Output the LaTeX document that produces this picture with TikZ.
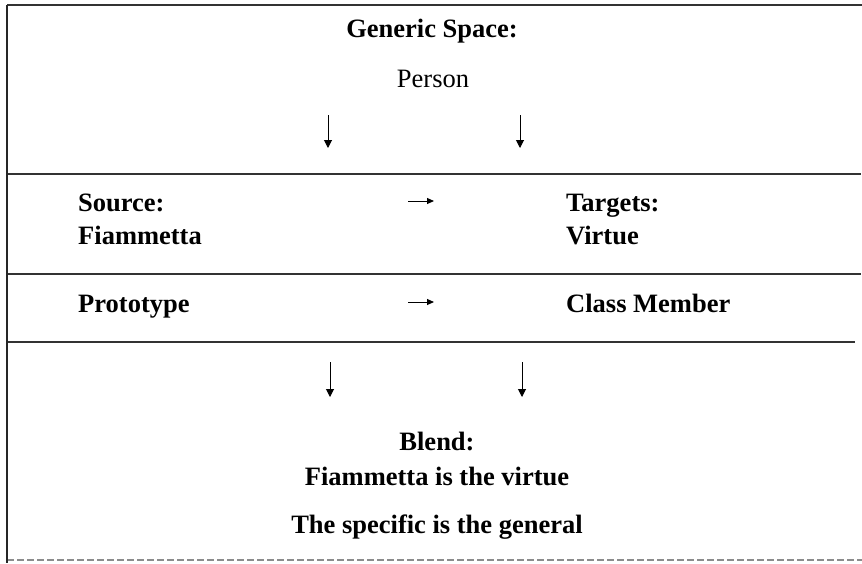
\documentclass[tikz,border=0pt]{standalone}
\usepackage{fontspec}
\setmainfont{Liberation Serif}
\usetikzlibrary{arrows.meta}
\tikzset{
  rowtext/.style={inner sep=0pt, align=left,
    font=\fontsize{26.5}{33}\selectfont\bfseries},
  blendtext/.style={inner sep=0pt, align=center,
    font=\fontsize{26.5}{35}\selectfont\bfseries},
  rule/.style={line width=1.3pt, black!80},
  maparrow/.style={-{Triangle[length=7pt, width=6pt]}, line width=1pt},
  downarrow/.style={-{Triangle[length=8pt, width=8pt]}, line width=1pt}
}

\begin{document}
\begin{tikzpicture}[x=1pt, y=-1pt]
  \useasboundingbox (0,0) rectangle (862,563);
  % frame
  \draw[rule] (7,5) -- (862,5);
  \draw[rule] (7,174) -- (861,174);
  \draw[rule] (7,274) -- (861,274);
  \draw[rule] (7,342) -- (855,342);
  \draw[rule, black!45, dash pattern=on 7pt off 3pt] (7,560) -- (862,560);
  \draw[line width=1.6pt, black!85] (7,5) -- (7,563);

  % generic space
  \node[rowtext, anchor=base] (generic) at (432,37) {Generic Space:};
  \node[rowtext, anchor=base, font=\fontsize{26.5}{33}\selectfont] (person) at (433,87) {Person};
  \coordinate (gen-l) at (328,115);
  \coordinate (gen-r) at (520,115);
  \coordinate (inp-l) at (328,148);
  \coordinate (inp-r) at (520,148);
  \draw[downarrow] (gen-l) -- (inp-l);
  \draw[downarrow] (gen-r) -- (inp-r);

  % input spaces
  \node[rowtext, anchor=west] (source) at (78,219.75) {Source:\\Fiammetta};
  \node[rowtext, anchor=west] (targets) at (566,219.75) {Targets:\\Virtue};
  \node[rowtext, anchor=base west] (proto) at (78,312) {Prototype};
  \node[rowtext, anchor=base west] (member) at (566,312) {Class Member};
  \coordinate (map1-a) at (408,201);
  \coordinate (map1-b) at (434,201);
  \coordinate (map2-a) at (408,302);
  \coordinate (map2-b) at (434,302);
  \draw[maparrow] (map1-a) -- (map1-b);
  \draw[maparrow] (map2-a) -- (map2-b);

  % blend
  \coordinate (proj-l) at (330,362);
  \coordinate (proj-r) at (522,362);
  \coordinate (bl-l) at (330,397);
  \coordinate (bl-r) at (522,397);
  \draw[downarrow] (proj-l) -- (bl-l);
  \draw[downarrow] (proj-r) -- (bl-r);
  \node[blendtext] (blend) at (437,458.5) {Blend:\\Fiammetta is the virtue};
  \node[blendtext, anchor=base] (specific) at (437,533) {The specific is the general};
\end{tikzpicture}
\end{document}
